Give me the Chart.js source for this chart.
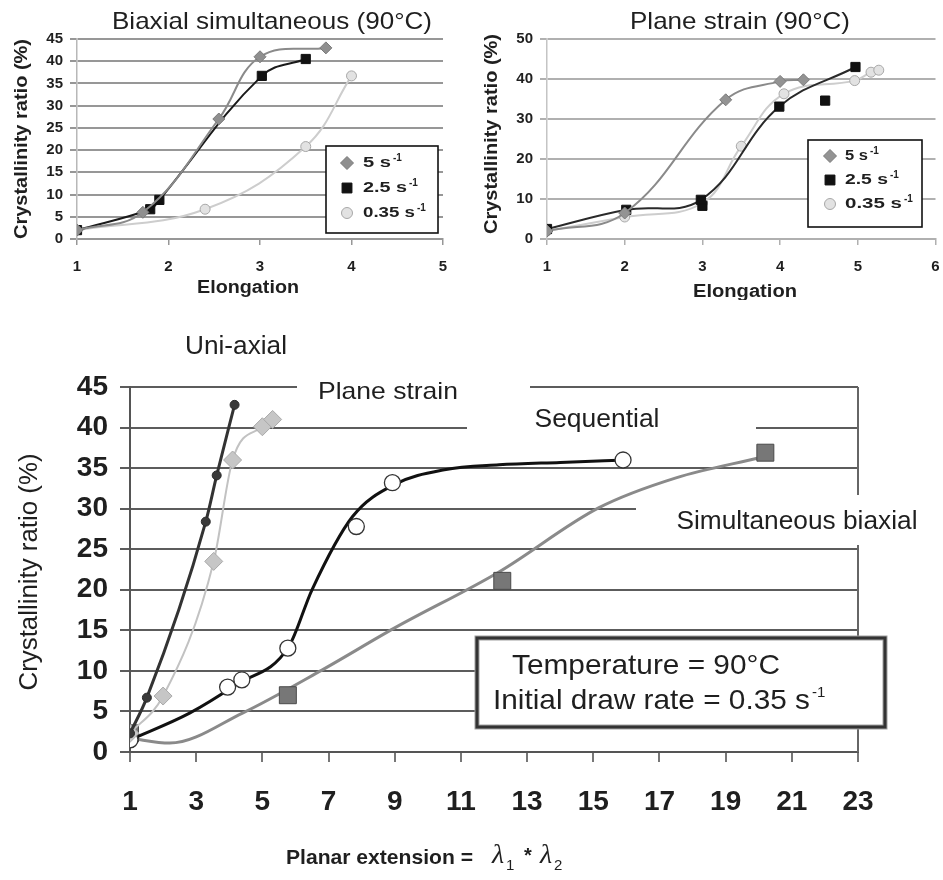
<!DOCTYPE html>
<html>
<head>
<meta charset="utf-8">
<script src="https://cdn.jsdelivr.net/npm/chart.js@4.4.1/dist/chart.umd.min.js"></script>
<style>
  body { margin: 0; background: #fff; }
  #wrap { position: relative; width: 943px; height: 880px; }
  canvas { position: absolute; }
</style>
</head>
<body>
<div id="wrap">
  <canvas id="biaxial" width="460" height="300" style="left:0;top:0;width:460px;height:300px"></canvas>
  <canvas id="plane" width="473" height="300" style="left:470px;top:0;width:473px;height:300px"></canvas>
  <canvas id="summary" width="943" height="580" style="left:0;top:300px;width:943px;height:580px"></canvas>
</div>
<script>
// --- Biaxial simultaneous (90°C), crystallinity vs elongation
const biax5X = [1, 1.72, 2.55, 3.0, 3.72];
const biax5Y = [2, 6, 27, 41, 43];
const biax25X = [1, 1.8, 1.9, 3.02, 3.5];
const biax25Y = [2, 6.7, 8.8, 36.7, 40.5];
const biax035X = [1, 2.4, 3.5, 4.0];
const biax035Y = [2, 6.7, 20.8, 36.7];

// --- Plane strain (90°C)
const ps5X = [1, 2, 3.3, 4, 4.3];
const ps5Y = [2, 6.5, 34.8, 39.4, 39.8];
const ps25X = [1, 2.02, 2.98, 3.99, 4.97];
const ps25Y = [2.5, 7.3, 9.8, 33.1, 43];
const ps25OffX = [3, 4.58];          // squares off the fitted curve
const ps25OffY = [8.3, 34.6];
const ps035X = [1, 2, 3, 3.5, 4.05, 4.96, 5.17, 5.27];
const ps035Y = [2, 5.5, 9, 23.2, 36.3, 39.6, 41.7, 42.2];

// --- Summary: crystallinity vs planar extension (lambda1*lambda2)
const uniX = [1, 1.51, 3.29, 3.62, 4.16];
const uniY = [2.3, 6.7, 28.4, 34.1, 42.8];
const planeX = [1, 2.0, 3.53, 4.1, 5.0, 5.31];
const planeY = [2.3, 6.9, 23.5, 36, 40.1, 41];
const seqX = [1, 3.95, 4.38, 5.77, 7.84, 8.93, 15.9];
const seqY = [1.5, 8.0, 8.9, 12.8, 27.8, 33.2, 36];
const seqCurveX = [1, 2.8, 4.2, 5.8, 6.5, 7.72, 9, 10.5, 12.15, 14, 16];
const seqCurveY = [1.5, 4.8, 8.3, 13, 20, 29, 33, 34.8, 35.4, 35.7, 36];
const simX = [1, 5.77, 12.25, 20.2];
const simY = [2.3, 7.0, 21.1, 36.9];
const simCurveX = [1, 2.2, 4.4, 6.8, 9, 12.15, 15.16, 17.5, 20.05];
const simCurveY = [1.7, 1.1, 4.8, 10.1, 15.3, 22.2, 30.1, 33.8, 36.3];

const FONT = '"Liberation Sans", Arial, sans-serif';
const INK = '#1f1f1f';
Chart.defaults.font.family = FONT;

const pts = (xs, ys) => xs.map((x, i) => ({ x: x, y: ys[i] }));

// text squeezed/stretched to the width it has in the picture
function fitText(ctx, text, cx, cy, font, width, angle) {
  ctx.save();
  ctx.font = font;
  ctx.fillStyle = INK;
  ctx.textAlign = 'center';
  ctx.textBaseline = 'middle';
  ctx.translate(cx, cy);
  if (angle) ctx.rotate(angle);
  ctx.scale(width / ctx.measureText(text).width, 1);
  ctx.fillText(text, 0, 0);
  ctx.restore();
}

function fitLeft(ctx, text, x, cy, font, width) {
  ctx.save();
  ctx.font = font;
  ctx.fillStyle = INK;
  ctx.textAlign = 'left';
  ctx.textBaseline = 'middle';
  ctx.translate(x, cy);
  ctx.scale(width / ctx.measureText(text).width, 1);
  ctx.fillText(text, 0, 0);
  ctx.restore();
  return x + width;
}

function drawLegend(chart, box, markerX, textX, rows) {
  const ctx = chart.ctx;
  ctx.save();
  ctx.fillStyle = '#fff';
  ctx.fillRect(box.left, box.top, box.right - box.left, box.bottom - box.top);
  ctx.strokeStyle = '#111';
  ctx.lineWidth = 1.6;
  ctx.strokeRect(box.left, box.top, box.right - box.left, box.bottom - box.top);
  rows.forEach(r => {
    const ds = chart.data.datasets[r.index];
    ctx.fillStyle = ds.pointBackgroundColor;
    ctx.strokeStyle = ds.pointBorderColor;
    ctx.lineWidth = ds.pointBorderWidth;
    Chart.helpers.drawPoint(ctx, {
      pointStyle: ds.pointStyle, radius: ds.pointRadius + 0.5, rotation: 0, borderWidth: ds.pointBorderWidth
    }, markerX, r.y);
    const end = fitLeft(ctx, r.text, textX, r.y, 'bold 15px ' + FONT, r.width);
    ctx.font = 'bold 10px ' + FONT;
    ctx.fillStyle = INK;
    ctx.textAlign = 'left';
    ctx.textBaseline = 'middle';
    ctx.fillText('-1', end + 2, r.y - 5);
  });
  ctx.restore();
}

function topScales(xMax, yMax, yStep, gridColor, axisColor) {
  return {
    x: {
      type: 'linear', min: 1, max: xMax,
      ticks: { stepSize: 1, color: INK, font: { size: 15, weight: 'bold' }, padding: 13, maxRotation: 0, autoSkip: false },
      grid: { drawOnChartArea: false, tickLength: 6, color: gridColor, lineWidth: 1.5 },
      border: { color: gridColor, width: 2 },
      afterFit: s => { s.height = 61; s.paddingLeft = 0; s.paddingRight = 0; }
    },
    y: {
      min: 0, max: yMax,
      ticks: { stepSize: yStep, color: INK, font: { size: 15, weight: 'bold' }, padding: 7 },
      grid: { color: gridColor, lineWidth: 2, tickLength: 7 },
      border: { color: axisColor, width: 1.5 },
      afterFit: s => { s.width = 77; s.paddingTop = 0; s.paddingBottom = 0; }
    }
  };
}

function curve(label, xs, ys, line, fill, stroke, style, radius, width) {
  return {
    label: label, data: pts(xs, ys), showLine: true, tension: 0.4,
    borderColor: line, borderWidth: width || 2,
    pointStyle: style, pointRadius: radius,
    pointBackgroundColor: fill, pointBorderColor: stroke, pointBorderWidth: 1
  };
}

// ---------- top-left chart
const biaxialDecor = {
  id: 'biaxialDecor',
  afterDraw(chart) {
    const ctx = chart.ctx;
    fitText(ctx, 'Biaxial simultaneous (90°C)', 272, 22, '24px ' + FONT, 320);
    fitText(ctx, 'Crystallinity ratio (%)', 22, 139, 'bold 19px ' + FONT, 200, -Math.PI / 2);
    fitText(ctx, 'Elongation', 248, 288, 'bold 18px ' + FONT, 102);
    drawLegend(chart, { left: 326, top: 146, right: 438, bottom: 233 }, 347, 363, [
      { index: 0, y: 163, text: '5 s', width: 28 },
      { index: 1, y: 188, text: '2.5 s', width: 44 },
      { index: 2, y: 213, text: '0.35 s', width: 52 }
    ]);
  }
};

new Chart(document.getElementById('biaxial'), {
  type: 'scatter',
  data: {
    datasets: [
      curve('5 s-1', biax5X, biax5Y, '#8a8a8a', '#8f8f8f', '#7a7a7a', 'rectRot', 6),
      curve('2.5 s-1', biax25X, biax25Y, '#1a1a1a', '#111', '#111', 'rect', 6.5),
      curve('0.35 s-1', biax035X, biax035Y, '#cdcdcd', '#e2e2e2', '#a8a8a8', 'circle', 5)
    ]
  },
  options: {
    responsive: false, animation: false,
    layout: { padding: { left: 0, right: 17, top: 39, bottom: 0 } },
    plugins: { legend: { display: false }, tooltip: { enabled: false } },
    scales: topScales(5, 45, 5, '#979797', '#b8b8b8')
  },
  plugins: [biaxialDecor]
});

// ---------- top-right chart
const planeDecor = {
  id: 'planeDecor',
  afterDraw(chart) {
    const ctx = chart.ctx;
    fitText(ctx, 'Plane strain (90°C)', 270, 22, '24px ' + FONT, 220);
    fitText(ctx, 'Crystallinity ratio (%)', 22, 134, 'bold 19px ' + FONT, 200, -Math.PI / 2);
    fitText(ctx, 'Elongation', 275, 292, 'bold 18px ' + FONT, 104);
    drawLegend(chart, { left: 338, top: 140, right: 452, bottom: 227 }, 360, 375, [
      { index: 0, y: 156, text: '5 s', width: 23 },
      { index: 1, y: 180, text: '2.5 s', width: 43 },
      { index: 3, y: 204, text: '0.35 s', width: 57 }
    ]);
  }
};

const psOff = curve('2.5 s-1', ps25OffX, ps25OffY, '#1a1a1a', '#111', '#111', 'rect', 6.5);
psOff.showLine = false;

new Chart(document.getElementById('plane'), {
  type: 'scatter',
  data: {
    datasets: [
      curve('5 s-1', ps5X, ps5Y, '#8a8a8a', '#939393', '#7a7a7a', 'rectRot', 6),
      curve('2.5 s-1', ps25X, ps25Y, '#2a2a2a', '#111', '#111', 'rect', 6.5),
      psOff,
      curve('0.35 s-1', ps035X, ps035Y, '#cdcdcd', '#e2e2e2', '#a8a8a8', 'circle', 5)
    ]
  },
  options: {
    responsive: false, animation: false,
    layout: { padding: { left: 0, right: 4, top: 39, bottom: 0 } },
    plugins: { legend: { display: false }, tooltip: { enabled: false } },
    scales: topScales(6, 50, 10, '#b0b0b0', '#c4c4c4')
  },
  plugins: [planeDecor]
});

// ---------- bottom summary chart
const summaryDecor = {
  id: 'summaryDecor',
  beforeDatasetsDraw(chart) {
    const ctx = chart.ctx;
    ctx.save();
    ctx.strokeStyle = '#666';
    ctx.lineWidth = 2;
    ctx.beginPath();
    ctx.moveTo(858, chart.chartArea.top);
    ctx.lineTo(858, chart.chartArea.bottom);
    ctx.stroke();
    // label gaps in the grid
    ctx.fillStyle = '#fff';
    ctx.fillRect(297, 78, 233, 18);
    ctx.fillRect(467, 118, 289, 18);
    ctx.fillRect(636, 199, 226, 18);
    ctx.fillRect(850, 195, 14, 50);
    ctx.restore();
  },
  afterDraw(chart) {
    const ctx = chart.ctx;
    fitText(ctx, 'Uni-axial', 236, 47, '25px ' + FONT, 102);
    fitText(ctx, 'Plane strain', 388, 92, '24px ' + FONT, 140);
    fitText(ctx, 'Sequential', 597, 120, '25px ' + FONT, 125);
    fitText(ctx, 'Simultaneous biaxial', 797, 222, '25px ' + FONT, 241);

    // conditions box
    ctx.save();
    ctx.fillStyle = '#fff';
    ctx.fillRect(477, 338, 408, 89);
    ctx.strokeStyle = '#a0a0a0';
    ctx.lineWidth = 5;
    ctx.strokeRect(477, 338, 408, 89);
    ctx.strokeStyle = '#333';
    ctx.lineWidth = 3;
    ctx.strokeRect(477, 338, 408, 89);
    ctx.restore();
    fitText(ctx, 'Temperature = 90°C', 646, 366, '28px ' + FONT, 268);
    const end = fitLeft(ctx, 'Initial draw rate = 0.35 s', 493, 401, '28px ' + FONT, 317);
    ctx.save();
    ctx.font = '15px ' + FONT;
    ctx.fillStyle = INK;
    ctx.textBaseline = 'middle';
    ctx.fillText('-1', end + 2, 393);
    ctx.restore();

    // axis titles
    fitText(ctx, 'Crystallinity ratio (%)', 30, 272, '25px ' + FONT, 237, -Math.PI / 2);
    fitText(ctx, 'Planar extension =', 379.5, 558, 'bold 21px ' + FONT, 187);
    ctx.save();
    ctx.fillStyle = INK;
    ctx.textAlign = 'left';
    ctx.textBaseline = 'middle';
    const serif = '"Liberation Serif", "DejaVu Serif", serif';
    ctx.font = 'italic 28px ' + serif;
    ctx.fillText('λ', 492, 556);
    ctx.fillText('λ', 540, 556);
    ctx.font = '15px ' + FONT;
    ctx.fillText('1', 506, 566);
    ctx.fillText('2', 554, 566);
    ctx.font = 'bold 20px ' + FONT;
    ctx.fillText('*', 524, 556);
    ctx.restore();
  }
};

new Chart(document.getElementById('summary'), {
  type: 'scatter',
  data: {
    datasets: [
      {
        label: 'Uni-axial', data: pts(uniX, uniY), showLine: true, cubicInterpolationMode: 'monotone',
        borderColor: '#333', borderWidth: 3,
        pointStyle: 'circle', pointRadius: 4.5, pointBackgroundColor: '#3a3a3a', pointBorderColor: '#2a2a2a', pointBorderWidth: 1
      },
      {
        label: 'Plane strain', data: pts(planeX, planeY), showLine: true, cubicInterpolationMode: 'monotone',
        borderColor: '#c2c2c2', borderWidth: 2,
        pointStyle: 'rectRot', pointRadius: 9, pointBackgroundColor: '#c6c6c6', pointBorderColor: '#a9a9a9', pointBorderWidth: 1
      },
      {
        label: 'Sequential', data: pts(seqX, seqY), showLine: false,
        pointStyle: 'circle', pointRadius: 8, pointBackgroundColor: '#fff', pointBorderColor: '#333', pointBorderWidth: 1.3
      },
      {
        label: 'Sequential curve', data: pts(seqCurveX, seqCurveY), showLine: true, cubicInterpolationMode: 'monotone',
        borderColor: '#111', borderWidth: 3, pointRadius: 0
      },
      {
        label: 'Simultaneous biaxial', data: pts(simX, simY), showLine: false,
        pointStyle: 'rect', pointRadius: 12, pointBackgroundColor: '#777', pointBorderColor: '#4a4a4a', pointBorderWidth: 1
      },
      {
        label: 'Simultaneous biaxial curve', data: pts(simCurveX, simCurveY), showLine: true, cubicInterpolationMode: 'monotone',
        borderColor: '#8a8a8a', borderWidth: 3, pointRadius: 0
      }
    ]
  },
  options: {
    responsive: false, animation: false,
    layout: { padding: { left: 0, right: 85, top: 87, bottom: 0 } },
    plugins: { legend: { display: false }, tooltip: { enabled: false } },
    scales: {
      x: {
        type: 'linear', min: 1, max: 23,
        ticks: { stepSize: 2, color: INK, font: { size: 28, weight: 'bold' }, padding: 23, maxRotation: 0, autoSkip: false },
        grid: { drawOnChartArea: false, tickLength: 10, color: '#777', lineWidth: 2 },
        border: { color: '#555', width: 2 },
        afterFit: s => { s.height = 128; s.paddingLeft = 0; s.paddingRight = 0; }
      },
      y: {
        min: 0, max: 45,
        ticks: { stepSize: 5, color: INK, font: { size: 28, weight: 'bold' }, padding: 12 },
        grid: { color: '#5c5c5c', lineWidth: 2, tickLength: 10 },
        border: { color: '#555', width: 2 },
        afterFit: s => { s.width = 130; s.paddingTop = 0; s.paddingBottom = 0; }
      }
    }
  },
  plugins: [summaryDecor]
});
</script>
</body>
</html>
